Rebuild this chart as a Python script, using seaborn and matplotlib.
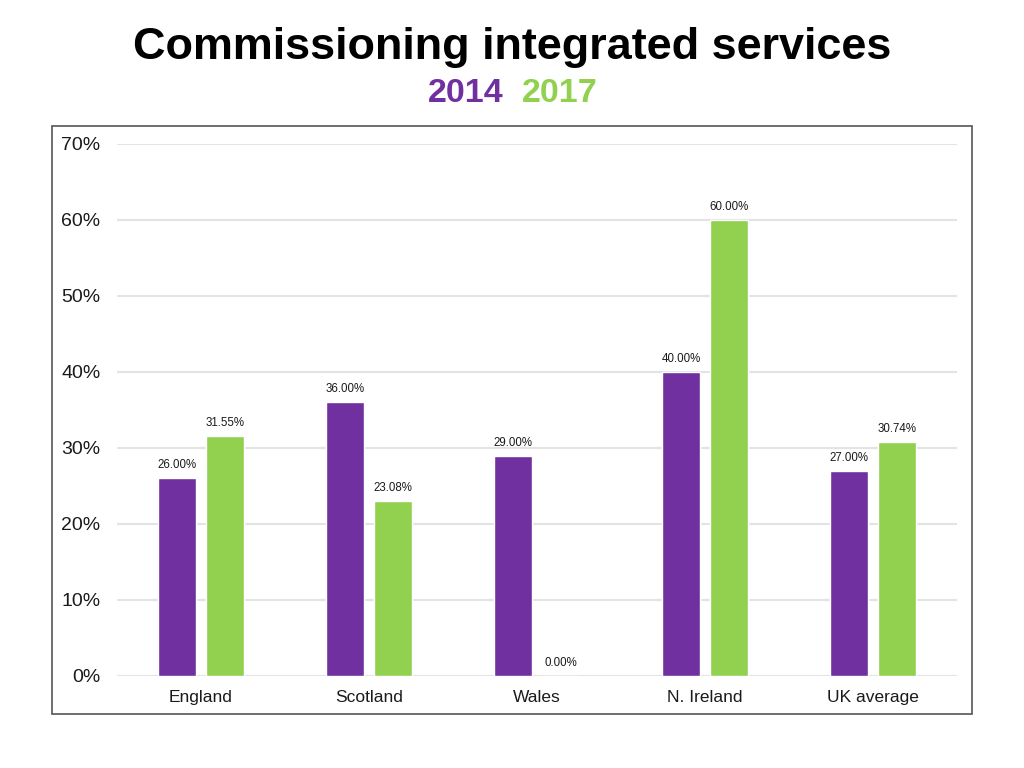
import matplotlib
matplotlib.use("Agg")
import matplotlib.pyplot as plt
import matplotlib.patches as mpatches
import pandas as pd
import seaborn as sns

# data
regions = ["England", "Scotland", "Wales", "N. Ireland", "UK average"]
years = ["2014", "2017"]
vals_2014 = [0.26, 0.36, 0.29, 0.40, 0.27]
vals_2017 = [0.3155, 0.2308, 0.0, 0.60, 0.3074]
yticks = [0, 0.1, 0.2, 0.3, 0.4, 0.5, 0.6, 0.7]

PURPLE = "#7030A0"
GREEN = "#92D050"
GRID_C = "#E3E3E3"
TXT = "#1A1A1A"

df = pd.DataFrame({
    "region": regions * 2,
    "year": [years[0]] * len(regions) + [years[1]] * len(regions),
    "value": vals_2014 + vals_2017,
})

sns.set_style("white")
plt.rcParams["font.family"] = ["Liberation Sans", "DejaVu Sans"]

fig = plt.figure(figsize=(10.24, 7.68), dpi=100)
fig.patch.set_facecolor("white")
ax = fig.add_axes([117 / 1024, 1 - 676 / 768, 840 / 1024, 532 / 768])

sns.barplot(data=df, x="region", y="value", hue="year", order=regions,
            hue_order=years, palette=[PURPLE, GREEN], width=0.571, gap=0.21,
            saturation=1, legend=False, ax=ax)

for cont in ax.containers:
    for bar in cont:
        h = bar.get_height()
        ax.annotate(f"{h * 100:.2f}%", (bar.get_x() + bar.get_width() / 2, h),
                    xytext=(0, 5), textcoords="offset points",
                    ha="center", va="bottom", fontsize=8.3, color=TXT)

ax.set_xlim(-0.5, len(regions) - 0.5)
ax.set_ylim(0, 0.7)
ax.set_yticks(yticks)
ax.set_yticklabels([f"{int(round(t * 100))}%" for t in yticks], fontsize=14)
ax.tick_params(axis="y", length=0, pad=12, labelcolor=TXT)
ax.tick_params(axis="x", length=0, pad=10, labelsize=12.5, labelcolor=TXT)
ax.set_xlabel("")
ax.set_ylabel("")
ax.yaxis.grid(True, color=GRID_C, linewidth=1.5)
ax.set_axisbelow(True)
for s in ax.spines.values():
    s.set_visible(False)

# outer frame around plot
frame = mpatches.Rectangle((52 / 1024, 1 - 714 / 768), 920 / 1024, 588 / 768,
                           transform=fig.transFigure, fill=False,
                           edgecolor="#555555", linewidth=1.2)
fig.patches.append(frame)

fig.text(0.5, 1 - 48 / 768, "Commissioning integrated services",
         ha="center", va="center", fontsize=32.4, fontweight="bold", color="black")
fig.text(0.5 - 0.008, 1 - 94 / 768, "2014", ha="right", va="center",
         fontsize=24.5, fontweight="bold", color=PURPLE)
fig.text(0.5 + 0.0095, 1 - 94 / 768, "2017", ha="left", va="center",
         fontsize=24.5, fontweight="bold", color=GREEN)

fig.savefig("out.png", dpi=100)
plt.close(fig)
